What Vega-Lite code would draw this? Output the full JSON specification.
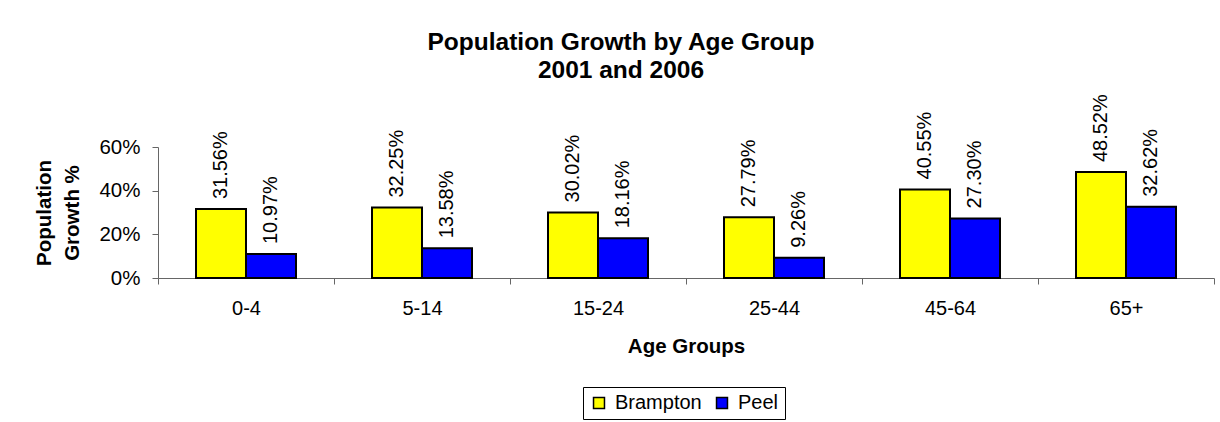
{
  "$schema": "https://vega.github.io/schema/vega-lite/v6.json",
  "width": 1056,
  "height": 131,
  "autosize": {"type": "none"},
  "padding": {"left": 158, "top": 147, "right": 6, "bottom": 144},
  "background": "white",
  "config": {"font": "Liberation Sans", "view": {"stroke": null}},
  "title": {
    "text": ["Population Growth by Age Group", "2001 and 2006"],
    "fontSize": 24.5,
    "fontWeight": "bold",
    "color": "black",
    "anchor": "middle",
    "frame": "group",
    "dx": -65,
    "dy": -7,
    "lineHeight": 28
  },
  "data": {
    "values": [
      {"age": "0-4", "region": "Brampton", "value": 0.3156},
      {"age": "0-4", "region": "Peel", "value": 0.1097},
      {"age": "5-14", "region": "Brampton", "value": 0.3225},
      {"age": "5-14", "region": "Peel", "value": 0.1358},
      {"age": "15-24", "region": "Brampton", "value": 0.3002},
      {"age": "15-24", "region": "Peel", "value": 0.1816},
      {"age": "25-44", "region": "Brampton", "value": 0.2779},
      {"age": "25-44", "region": "Peel", "value": 0.0926},
      {"age": "45-64", "region": "Brampton", "value": 0.4055},
      {"age": "45-64", "region": "Peel", "value": 0.2730},
      {"age": "65+", "region": "Brampton", "value": 0.4852},
      {"age": "65+", "region": "Peel", "value": 0.3262}
    ]
  },
  "encoding": {
    "x": {
      "field": "age",
      "type": "nominal",
      "sort": null,
      "scale": {"paddingInner": 0, "paddingOuter": 0},
      "axis": {
        "title": "Age Groups",
        "tickBand": "extent",
        "labelAngle": 0,
        "domainColor": "#666666",
        "tickColor": "#666666",
        "tickSize": 6,
        "labelFontSize": 20,
        "labelColor": "black",
        "labelPadding": 14,
        "titleFontSize": 20.5,
        "titleFontWeight": "bold",
        "titleColor": "black",
        "titlePadding": 18,
        "grid": false
      }
    },
    "xOffset": {
      "field": "region",
      "type": "nominal",
      "sort": ["Brampton", "Peel"],
      "scale": {"paddingInner": 0, "paddingOuter": 0.76}
    },
    "y": {
      "field": "value",
      "type": "quantitative",
      "scale": {"domain": [0, 0.6], "nice": false},
      "axis": {
        "title": ["Population", "Growth %"],
        "values": [0, 0.2, 0.4, 0.6],
        "format": ".0%",
        "grid": false,
        "domainColor": "#666666",
        "tickColor": "#666666",
        "tickSize": 6,
        "labelFontSize": 20.5,
        "labelColor": "black",
        "labelPadding": 12,
        "titleFontSize": 20.5,
        "titleFontWeight": "bold",
        "titleColor": "black",
        "titlePadding": 16,
        "titleLineHeight": 28
      }
    }
  },
  "layer": [
    {
      "mark": {"type": "bar", "stroke": "black", "strokeWidth": 2},
      "encoding": {
        "color": {
          "field": "region",
          "type": "nominal",
          "scale": {"domain": ["Brampton", "Peel"], "range": ["#FFFF00", "#0000FF"]},
          "legend": {
            "orient": "none",
            "legendX": 425,
            "legendY": 240,
            "direction": "horizontal",
            "title": null,
            "strokeColor": "black",
            "fillColor": "white",
            "padding": 6,
            "symbolType": "square",
            "symbolSize": 120,
            "symbolStrokeColor": "black",
            "symbolStrokeWidth": 1.5,
            "symbolOpacity": 1,
            "labelFontSize": 20,
            "labelColor": "black",
            "labelOffset": 6,
            "columnPadding": 10
          }
        }
      }
    },
    {
      "mark": {
        "type": "text",
        "angle": 270,
        "align": "left",
        "baseline": "middle",
        "dx": 10,
        "fontSize": 20,
        "color": "black"
      },
      "encoding": {
        "text": {"field": "value", "type": "quantitative", "format": ".2%"}
      }
    }
  ]
}
